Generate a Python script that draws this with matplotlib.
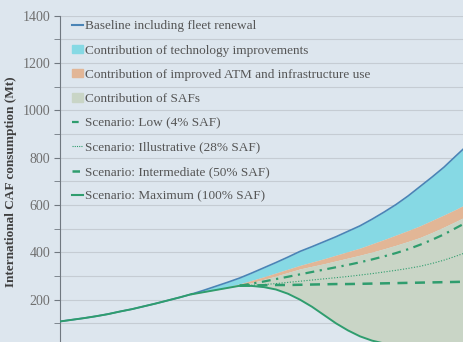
import numpy as np
import matplotlib
matplotlib.use("Agg")
import matplotlib.pyplot as plt
from matplotlib.lines import Line2D
from matplotlib.patches import Patch

# Yillar (rasm o'ng tomondan kesilgan)
years = list(range(2005, 2041))

# Bazaviy chiziq (Mt)
baseline = [108, 115, 122, 130, 139, 150, 160, 172, 184, 197, 210, 224,
            240, 257, 274, 292, 313, 335, 357, 380, 404, 424, 445, 466,
            489, 512, 540, 570, 602, 638, 678, 718, 760, 808, 855, 905]

# Texnologiya yaxshilanishidan keyingi chiziq (2016 dan)
tech_years = list(range(2016, 2041))
tech = [224, 234, 244, 255, 267, 282, 297, 313, 329, 345, 359, 373, 388,
        403, 418, 436, 454, 473, 492, 512, 535, 558, 582, 608, 635]

# ATM va infratuzilma yaxshilanishidan keyingi chiziq
atm = [223, 232, 241, 250, 259, 272, 286, 300, 315, 330, 341, 352, 364,
       376, 388, 401, 415, 430, 446, 463, 484, 507, 531, 556, 580]

# SAF ssenariylari (2020 dan)
saf_years = list(range(2020, 2041))
low = [259, 268, 277, 287, 297, 307, 317, 327, 337, 347, 358, 370, 383,
       397, 413, 432, 453, 476, 503, 530, 558]
illustrative = [259, 261, 264, 268, 273, 278, 283, 288, 293, 298, 304, 310,
                317, 324, 332, 341, 353, 367, 384, 402, 420]
intermediate = [259, 260, 261, 262, 262, 263, 264, 265, 266, 266, 267, 268,
                269, 270, 271, 272, 273, 274, 275, 276, 277]
maximum = [259, 258, 253, 243, 225, 200, 170, 135, 100, 70, 45, 27, 15, 8,
           5, 3, 3, 2, 2, 2, 2]

y_ticks = [0, 200, 400, 600, 800, 1000, 1200, 1400]
y_ticklabels = ["", "200", "400", "600", "800", "1000", "1200", "1400"]

legend_labels = ["Baseline including fleet renewal",
                 "Contribution of technology improvements",
                 "Contribution of improved ATM and infrastructure use",
                 "Contribution of SAFs",
                 "Scenario: Low (4% SAF)",
                 "Scenario: Illustrative (28% SAF)",
                 "Scenario: Intermediate (50% SAF)",
                 "Scenario: Maximum (100% SAF)"]

bg = "#dde6ee"
c_base = "#4a84b6"
c_tech = "#86d9e4"
c_atm = "#e2b696"
c_saf = "#c9d5c6"
c_line = "#2f9d6e"
serif = "Liberation Serif"

fig = plt.figure(figsize=(4.64, 3.42), dpi=100, facecolor=bg)
# o'q rasmdan pastga va o'ngga chiqib ketadi (asl rasm kesilgan)
ax = fig.add_axes([60 / 464, 1 - 347 / 342, 420 / 464, (347 - 15.7) / 342])
ax.set_facecolor(bg)

base_arr = np.array(baseline)
tech_arr = np.array(tech)
atm_arr = np.array(atm)
i16 = years.index(2016)
i20 = tech_years.index(2020)

ax.fill_between(tech_years, tech_arr, base_arr[i16:], color=c_tech, lw=0, zorder=2)
ax.fill_between(tech_years, atm_arr, tech_arr, color=c_atm, lw=0, zorder=2)
ax.fill_between(saf_years, maximum, atm_arr[i20:], color=c_saf, lw=0, zorder=2)

ax.plot(years, baseline, color=c_base, lw=1.2, zorder=4)
# ssenariylar 2020 gacha ATM chizig'i bilan bir xil
ax.plot(tech_years[:i20 + 1], atm[:i20 + 1], color=c_line, lw=1.4, zorder=4)
ax.plot(years[:i16 + 1], baseline[:i16 + 1], color=c_line, lw=1.4, zorder=4)
ax.plot(saf_years, low, color=c_line, lw=1.6, ls=(0, (4, 2.5, 1, 2.5)), zorder=4)
ax.plot(saf_years, illustrative, color=c_line, lw=0.8, ls=(0, (1, 1.5)), zorder=4)
ax.plot(saf_years, intermediate, color=c_line, lw=1.8, ls=(0, (4, 3)), zorder=4)
ax.plot(saf_years, maximum, color=c_line, lw=1.4, zorder=4)

ax.set_xlim(2005, 2040)
ax.set_ylim(0, 1400)
ax.set_yticks(y_ticks)
ax.set_yticklabels(y_ticklabels)
ax.set_yticks(range(100, 1400, 200), minor=True)
ax.grid(True, which="both", axis="y", color="#c5ccd3", lw=0.8, zorder=0)
ax.set_xticks([])
for s in ["top", "right", "bottom"]:
    ax.spines[s].set_visible(False)
ax.spines["left"].set_color("#707880")
ax.tick_params(axis="y", which="both", direction="out", length=4,
               color="#707880", labelsize=10, labelcolor="#707070", pad=3)
for lab in ax.get_yticklabels():
    lab.set_fontfamily(serif)

ax.set_ylabel("International CAF consumption (Mt)", fontsize=9.5,
              fontweight="bold", fontfamily=serif, color="#404040")
ax.yaxis.set_label_coords(-0.102, 0.5)

handles = [Line2D([], [], color=c_base, lw=1.5),
           Patch(color=c_tech),
           Patch(color=c_atm),
           Patch(color=c_saf),
           Line2D([], [], color=c_line, lw=1.6, ls=(0, (3, 2))),
           Line2D([], [], color=c_line, lw=0.8, ls=(0, (1, 1))),
           Line2D([], [], color=c_line, lw=1.8, ls=(0, (3, 2))),
           Line2D([], [], color=c_line, lw=1.5)]
leg = ax.legend(handles, legend_labels, loc="upper left", frameon=False,
                bbox_to_anchor=(0.01, 1.01), handlelength=0.8, handleheight=0.6,
                handletextpad=0.15, labelspacing=0.93, borderaxespad=0.2,
                prop={"family": serif, "size": 9.5})
for t in leg.get_texts():
    t.set_color("#555555")

fig.savefig("out.png", dpi=100, facecolor=bg)
